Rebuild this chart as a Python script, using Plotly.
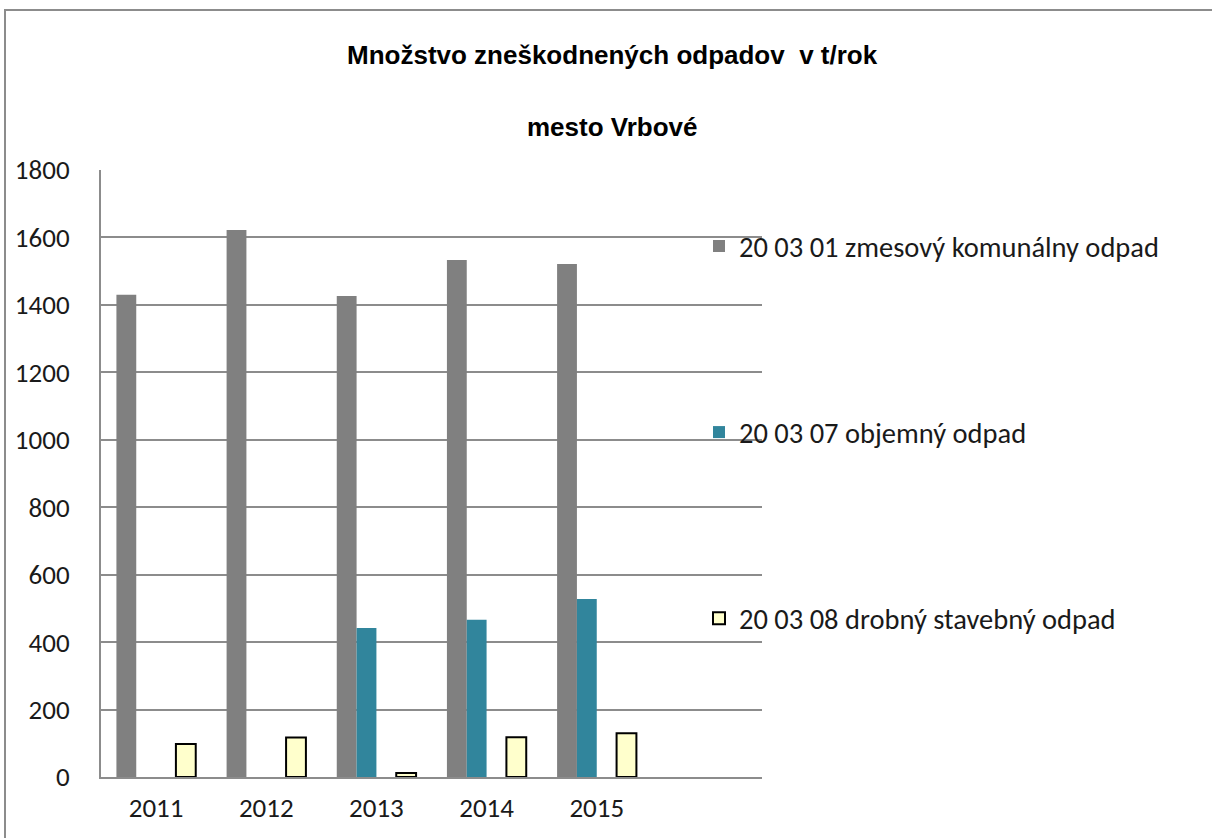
import plotly.graph_objects as go

years = ["2011", "2012", "2013", "2014", "2015", " "]
zmesovy = [1430, 1622, 1426, 1533, 1521, None]
objemny = [0, 0, 442, 466, 528, None]
drobny = [98, 117, 12, 118, 130, None]
spacer = [None, None, None, None, None, None]

names = ["20 03 01 zmesový komunálny odpad",
         "20 03 07 objemný odpad",
         "20 03 08 drobný stavebný odpad"]

W, H = 1212, 838
L, R, T, B = 101, 762, 170, 777

def px(x):
    return (x - L) / (R - L)

def py(y):
    return (B - y) / (B - T)

fig = go.Figure()
fig.add_trace(go.Bar(x=years, y=zmesovy, name=names[0], marker=dict(color="#808080", line=dict(width=0)),
                     legendgroup="a"))
fig.add_trace(go.Bar(x=years, y=objemny, name=names[1], marker=dict(color="#31859C", line=dict(width=0)),
                     legendgroup="b"))
fig.add_trace(go.Bar(x=years, y=spacer, name="", showlegend=False, hoverinfo="skip"))
fig.add_trace(go.Bar(x=years, y=drobny, name=names[2],
                     marker=dict(color="#FFFFCC", line=dict(color="#000000", width=2)),
                     legendgroup="c"))

font_body = "Carlito, Calibri, Lato, 'Noto Sans', sans-serif"
title_font = dict(family="'Liberation Sans Narrow', 'Arial Narrow', 'Liberation Sans', Arial, sans-serif",
                  size=26, color="#000000")

fig.update_layout(
    width=W, height=H,
    margin=dict(l=L, r=W - R, t=T, b=H - B, pad=0, autoexpand=False),
    paper_bgcolor="#FFFFFF", plot_bgcolor="#FFFFFF",
    barmode="group", bargap=0.28, bargroupgap=0,
    font=dict(family=font_body, size=20, color="#1a1a1a"),
    showlegend=True,
    legend=dict(x=px(699), y=py(221), xanchor="left", yanchor="top",
                font=dict(family=font_body, size=28.5, color="#1a1a1a"),
                tracegroupgap=146, bgcolor="rgba(0,0,0,0)",
                itemwidth=30),
    xaxis=dict(type="category", categoryorder="array", categoryarray=years,
               range=[-0.5, 5.5], showgrid=False, showline=True, linecolor="#8C8C8C",
               linewidth=2, ticks="", ticklabelstandoff=6, automargin=False,
               tickfont=dict(family=font_body, size=27, color="#1a1a1a")),
    yaxis=dict(range=[0, 1800], dtick=200, tick0=0, showgrid=True, gridcolor="#8C8C8C",
               gridwidth=2, showline=True, linecolor="#8C8C8C", linewidth=2, ticks="",
               zeroline=False, ticklabelstandoff=24, automargin=False,
               tickfont=dict(family=font_body, size=27, color="#1a1a1a")),
    annotations=[
        dict(text="<b>Množstvo zneškodnených odpadov  v t/rok</b>", x=px(612), y=py(55),
             xref="paper", yref="paper", xanchor="center", yanchor="middle",
             showarrow=False, font=title_font),
        dict(text="<b>mesto Vrbové</b>", x=px(612), y=py(127),
             xref="paper", yref="paper", xanchor="center", yanchor="middle",
             showarrow=False, font=title_font),
    ],
    shapes=[
        dict(type="rect", xref="paper", yref="paper", x0=px(5), x1=px(1240), y0=py(860), y1=py(10),
             line=dict(color="#8C8C8C", width=2), fillcolor="rgba(0,0,0,0)", layer="below"),
    ],
)

fig.write_html("out.html", config={"displayModeBar": False},
               post_script="document.body.style.margin='0';document.body.style.overflow='hidden';")
